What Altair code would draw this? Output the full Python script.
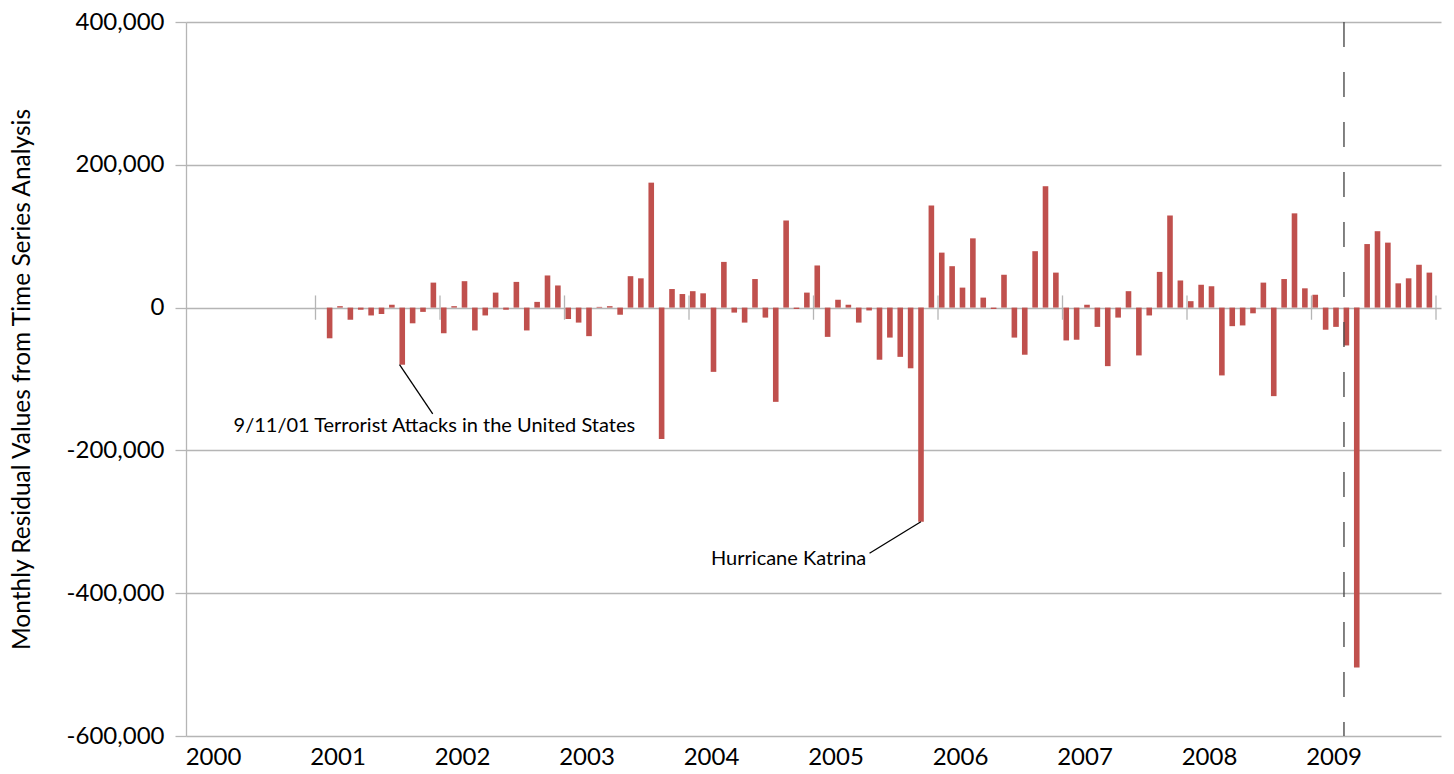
import altair as alt
import pandas as pd

# Monthly residuals (thousands), Feb 2001 .. Dec 2009
res_2001 = [-43, 2, -17, -3, -11, -9, 4, -80, -22, -6, 35]          # Feb-Dec
res_2002 = [-36, 2, 37, -32, -11, 21, -3, 36, -32, 8, 45, 31]
res_2003 = [-16, -21, -40, 1, 2, -10, 44, 41, 175, -184, 26, 19]
res_2004 = [23, 20, -90, 64, -7, -21, 40, -14, -132, 122, -2, 21]
res_2005 = [59, -41, 11, 4, -21, -4, -73, -42, -69, -85, -300, 143]
res_2006 = [77, 58, 28, 97, 14, -2, 46, -42, -66, 79, 170, 49]
res_2007 = [-46, -45, 4, -27, -82, -14, 23, -67, -11, 50, 129, 38]
res_2008 = [9, 32, 30, -95, -26, -25, -8, 35, -124, 40, 132, 27]
res_2009 = [18, -31, -27, -53, -504, 89, 107, 91, 34, 41, 60, 49]

years = list(range(2000, 2011))
y_ticks = [-600000, -400000, -200000, 0, 200000, 400000]
y_title = "Monthly Residual Values from Time Series Analysis"

# event marker (month index since Jan 2000)
event_month = [111.13]

# annotations: text, text anchor (month idx, value), line start/end
ann_text = ["9/11/01 Terrorist Attacks in the United States", "Hurricane Katrina"]
ann_tx = [4.1, 65.09]
ann_ty = [-174000, -360500]
ann_align = ["left", "right"]
ann_x1 = [20.1, 70.35]
ann_y1 = [-80000, -300000]
ann_x2 = [23.3, 65.4]
ann_y2 = [-149000, -344000]

values = (res_2001 + res_2002 + res_2003 + res_2004 + res_2005 +
          res_2006 + res_2007 + res_2008 + res_2009)
dates = pd.date_range("2001-02-01", periods=len(values), freq="MS")
df = pd.DataFrame({"date": dates, "value": [v * 1000 for v in values]})
df["m"] = (df["date"].dt.year - 2000) * 12 + df["date"].dt.month - 1

bounds = pd.DataFrame({"m": [(y - 2000) * 12 for y in years[1:]]})
ev = pd.DataFrame({"m": event_month})
ann = pd.DataFrame({"text": ann_text, "tx": ann_tx, "ty": ann_ty, "align": ann_align,
                    "x1": ann_x1, "y1": ann_y1, "x2": ann_x2, "y2": ann_y2})

FONT = "Lato"
GRID = "#b5b5b5"
BAR = "#c0504d"

xs = alt.Scale(domain=[0, 120], nice=False, zero=False)
ys = alt.Scale(domain=[-600000, 400000], nice=False)

x_axis = alt.Axis(
    values=[(y - 2000) * 12 for y in years[:-1]],
    labelExpr="'' + (floor(datum.value / 12) + 2000)",
    labelOffset=22, labelFlush=False, labelOverlap=False, labelBound=False,
    ticks=False, domain=False, grid=False, title=None,
    labelFont=FONT, labelFontSize=24, labelColor="#000000", labelPadding=9)
y_axis = alt.Axis(
    values=y_ticks,
    labelExpr="(datum.value < 0 ? '-' : '') + format(abs(datum.value), ',')",
    grid=True, gridColor=GRID, gridWidth=1.3,
    domain=True, domainColor=GRID, domainWidth=1.3,
    ticks=True, tickColor=GRID, tickSize=11, tickWidth=1.3,
    labelFont=FONT, labelFontSize=24, labelColor="#000000", labelPadding=11,
    title=y_title, titleFont=FONT, titleFontSize=24.5, titleFontWeight="normal",
    titleColor="#000000", titleX=-164, titleBaseline="middle")

bars = alt.Chart(df).mark_bar(color=BAR, size=5.6, xOffset=3.75).encode(
    x=alt.X("m:Q", scale=xs, axis=x_axis),
    y=alt.Y("value:Q", scale=ys, axis=y_axis),
    y2=alt.datum(0),
)

ticks = alt.Chart(bounds).mark_rule(color=GRID, strokeWidth=1.3).encode(
    x=alt.X("m:Q", scale=xs, axis=x_axis),
    y=alt.datum(-17000, scale=ys, axis=y_axis),
    y2=alt.datum(17000),
)

event = alt.Chart(ev).mark_rule(color="#4d4d4d", strokeWidth=1.4, strokeDash=[25, 25]).encode(
    x=alt.X("m:Q", scale=xs, axis=x_axis),
    y=alt.datum(400000, scale=ys, axis=y_axis),
    y2=alt.datum(-600000),
)

lines = alt.Chart(ann).mark_rule(color="#000000", strokeWidth=1.3).encode(
    x=alt.X("x1:Q", scale=xs, axis=x_axis),
    x2="x2:Q",
    y=alt.Y("y1:Q", scale=ys, axis=y_axis),
    y2="y2:Q",
)

texts_left = alt.Chart(ann[ann["align"] == "left"]).mark_text(
    align="left", baseline="alphabetic", font=FONT, fontSize=20, color="#000000").encode(
    x=alt.X("tx:Q", scale=xs, axis=x_axis),
    y=alt.Y("ty:Q", scale=ys, axis=y_axis),
    text="text:N",
)
texts_right = alt.Chart(ann[ann["align"] == "right"]).mark_text(
    align="right", baseline="alphabetic", font=FONT, fontSize=20, color="#000000").encode(
    x=alt.X("tx:Q", scale=xs, axis=x_axis),
    y=alt.Y("ty:Q", scale=ys, axis=y_axis),
    text="text:N",
)

chart = alt.layer(bars, ticks, event, lines, texts_left, texts_right).properties(
    width=1255, height=714,
    background="#ffffff",
    autosize=alt.AutoSizeParams(type="none"),
    padding={"left": 186, "top": 22, "right": 13, "bottom": 38},
).configure_view(stroke=None)

chart.save("out.html", embed_options={"renderer": "svg", "actions": False})
